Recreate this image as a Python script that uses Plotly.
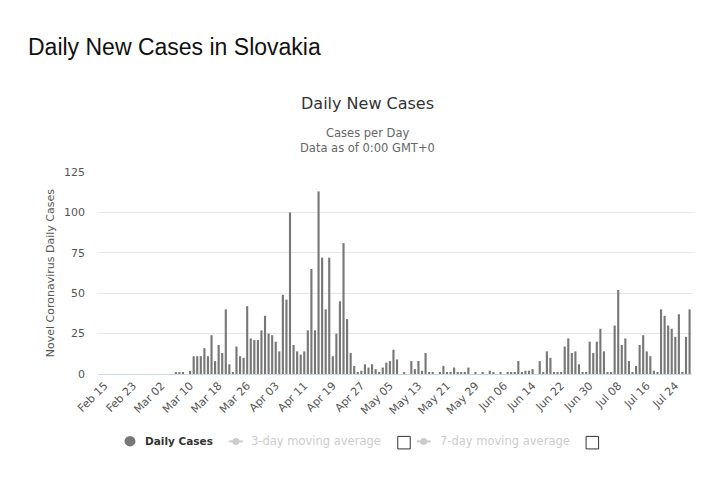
import plotly.graph_objects as go
import pandas as pd

# ---------------- data ----------------
first_day = "2020-02-15"
last_day = "2020-07-28"
feb_early_mar_cases = [0, 0, 0, 0, 0, 0, 0, 0, 0, 0, 0, 0, 0, 0, 0, 0, 0, 0, 0, 0]  # Feb 15 - Mar 05
mar_cases = [1, 1, 1, 0, 2, 11, 11, 11, 16, 11, 24, 8, 18, 13, 40, 6, 1, 17, 11, 10,
             42, 22, 21, 21, 27, 36]  # Mar 06 - Mar 31
apr_cases = [25, 24, 20, 14, 49, 46, 100, 18, 14, 12, 14, 27, 65, 27, 113, 72, 40, 72,
             11, 25, 45, 81, 34, 13, 5, 1, 2, 6, 4, 6]
may_cases = [3, 1, 4, 7, 8, 15, 9, 0, 1, 0, 8, 3, 8, 2, 13, 1, 1, 0, 1, 5, 1, 1, 4, 1,
             1, 1, 4, 0, 1, 0, 1]
jun_cases = [0, 2, 1, 0, 1, 0, 1, 1, 1, 8, 1, 2, 2, 3, 0, 8, 1, 14, 10, 1, 1, 1, 17, 22,
             13, 14, 6, 1, 1, 20]
jul_cases = [13, 20, 28, 14, 1, 1, 30, 52, 18, 22, 8, 1, 5, 18, 24, 14, 11, 2, 1, 40,
             36, 30, 28, 23, 37, 1, 23, 40]  # Jul 01 - Jul 28

y_ticks = [0, 25, 50, 75, 100, 125]
legend_labels = ["Daily Cases", "3-day moving average", "7-day moving average"]

page_title = "Daily New Cases in Slovakia"
chart_title = "Daily New Cases"
subtitle_lines = ["Cases per Day", "Data as of 0:00 GMT+0"]
y_title = "Novel Coronavirus Daily Cases"

dates = pd.date_range(first_day, last_day, freq="D")
cases = feb_early_mar_cases + mar_cases + apr_cases + may_cases + jun_cases + jul_cases

# ---------------- layout geometry ----------------
# the page body has an 8px margin, so the figure is made 16px smaller and
# all screen positions are shifted by that offset
OFF = 8
W, H = 720 - 2 * OFF, 483 - 2 * OFF
L = 98 - OFF
T = 172 - OFF
R = W - (692.5 - OFF)
B = H - (373.7 - OFF)
PW, PH = W - L - R, H - T - B


def px(x):  # screen x -> paper x
    return (x - OFF - L) / PW


def py(y):  # screen y -> paper y
    return (H - B - (y - OFF)) / PH


BAR = "#777777"
DAY_MS = 86400000

fig = go.Figure()
fig.add_trace(go.Bar(
    x=dates, y=cases, width=0.6 * DAY_MS,
    marker=dict(color=BAR, line=dict(width=0)),
    name=legend_labels[0], showlegend=False,
))

font_main = "DejaVu Sans"


def ann(text, x, y, size, color, family=font_main, xanchor="center", angle=0):
    return dict(text=text, x=px(x), y=py(y), xref="paper", yref="paper",
                showarrow=False, xanchor=xanchor, yanchor="middle", textangle=angle,
                font=dict(family=family, size=size, color=color))


annotations = [
    ann(page_title, 26, 47, 23, "#111111", family="Liberation Sans, Arial", xanchor="left"),
    ann(chart_title, 368, 104, 16, "#333333"),
    ann(subtitle_lines[0], 368, 133, 11.5, "#666666"),
    ann(subtitle_lines[1], 368, 148, 11.5, "#666666"),
    ann(y_title, 50, 273, 11, "#555555", angle=-90),
    ann("<b>" + legend_labels[0] + "</b>", 143, 441, 10.5, "#333333", xanchor="left"),
    ann(legend_labels[1], 249, 441, 11.5, "#cccccc", xanchor="left"),
    ann(legend_labels[2], 438, 441, 11.5, "#cccccc", xanchor="left"),
]

shapes = [
    dict(type="circle", xref="paper", yref="paper",
         x0=px(124.5), x1=px(135.5), y0=py(446), y1=py(435.5),
         fillcolor=BAR, line=dict(width=0)),
]
for x0, x1 in [(229, 243), (417, 431)]:
    shapes.append(dict(type="line", xref="paper", yref="paper",
                       x0=px(x0), x1=px(x1), y0=py(441), y1=py(441),
                       line=dict(color="#cccccc", width=2)))
    cx = (x0 + x1) / 2
    shapes.append(dict(type="circle", xref="paper", yref="paper",
                       x0=px(cx - 3.5), x1=px(cx + 3.5), y0=py(444.5), y1=py(437.5),
                       fillcolor="#cccccc", line=dict(width=0)))
for x0 in [398, 586.5]:
    shapes.append(dict(type="rect", xref="paper", yref="paper",
                       x0=px(x0), x1=px(x0 + 12.5), y0=py(448.5), y1=py(436),
                       fillcolor="white", line=dict(color="#333333", width=1)))

fig.update_layout(
    width=W, height=H,
    margin=dict(l=L, r=R, t=T, b=B, pad=0),
    paper_bgcolor="white", plot_bgcolor="white",
    showlegend=False,
    bargap=0.4,
    annotations=annotations,
    shapes=shapes,
    xaxis=dict(
        type="date",
        range=["2020-02-13 04:20", "2020-07-28 16:20"],
        tick0=first_day, dtick=8 * DAY_MS,
        tickformat="%b %d", tickangle=-45,
        tickfont=dict(family=font_main, size=11, color="#555555"),
        showgrid=False, zeroline=False,
        showline=True, linecolor="#ccd6eb", linewidth=1,
        ticks="", fixedrange=True,
    ),
    yaxis=dict(
        range=[0, 125], tickvals=y_ticks,
        tickfont=dict(family=font_main, size=11, color="#555555"),
        showgrid=True, gridcolor="#e6e6e6", gridwidth=1,
        zeroline=False, showline=False, ticks="",
        ticklabelstandoff=12,
    ),
)

fig.write_html("out.html")
